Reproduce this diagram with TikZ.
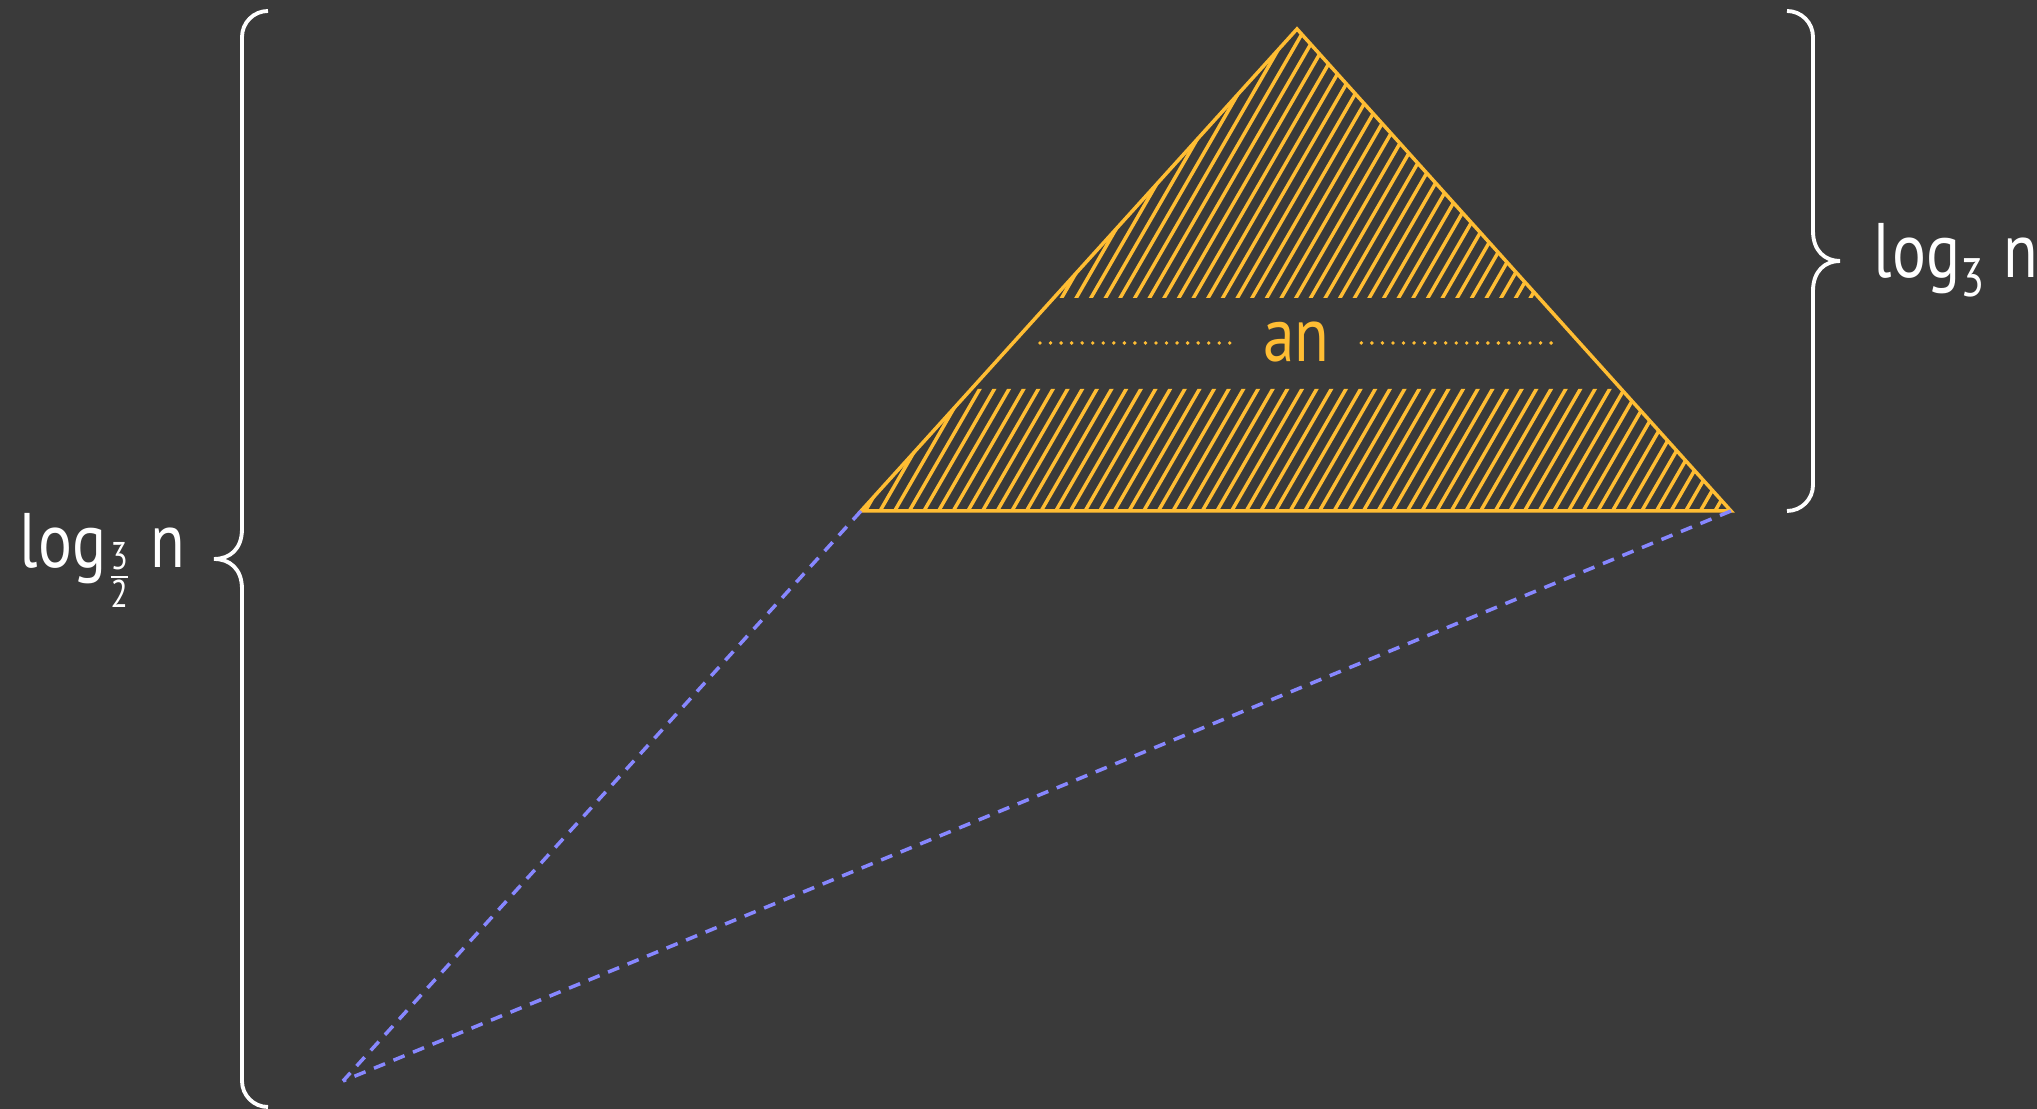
\documentclass[tikz,border=0pt]{standalone}
\usepackage{amsmath}
\usepackage{fontspec}
\setmainfont[FakeStretch=0.82]{PT Sans}
\usetikzlibrary{positioning,calc}
\definecolor{board}{RGB}{58,58,58}
\definecolor{chalkyellow}{RGB}{255,189,51}
\definecolor{chalkblue}{RGB}{135,135,255}
\tikzset{every picture/.style={line width=1pt}}
\tikzset{
  tri/.style={draw=chalkyellow, line join=miter},
  hatch/.style={chalkyellow, shorten <=-4pt},
  dotline/.style={chalkyellow, line width=1.1pt, dash pattern=on 0pt off 3pt, line cap=round},
  ray/.style={chalkblue, dash pattern=on 3.4pt off 2.6pt},
  bracket/.style={white, line width=1.1pt},
  lbl/.style={white, font=\fontsize{22}{26}\selectfont, inner sep=0pt}
}

\begin{document}
\begin{tikzpicture}
    % 黑板背景
    \fill[board] (0,0) rectangle (20.37,11.09);
    \useasboundingbox (0,0) rectangle (20.37,11.09);

    % 三角形顶点
    \coordinate (apex) at (12.97,10.80);
    \coordinate (bl) at (8.61,5.98);
    \coordinate (br) at (17.31,5.98);
    \coordinate (vp) at (3.43,0.28);

    % 阴影条带
    \begin{scope}
        \clip (apex) -- (bl) -- (br) -- cycle;
        \clip (0,5.5) rectangle (20.37,7.20) (0,8.11) rectangle (20.37,11.09);
        \foreach \k in {-19,...,58}
            \draw[hatch] (8.80+\k*0.1465,5.98) -- ++(60:5.8);
    \end{scope}

    % 三角形
    \draw[tri] (apex) -- (bl) -- (br) -- cycle;

    % 中间层
    \node[chalkyellow, font=\fontsize{22}{26}\selectfont, inner xsep=0.3cm, inner ysep=0pt, anchor=base] (an) at (12.965,7.47) {an};
    \coordinate (dl) at (10.40,7.66);
    \coordinate (dr) at (15.55,7.66);
    \draw[dotline] (dl) -- (dl -| an.west);
    \draw[dotline] (dr -| an.east) -- (dr);

    % 虚线
    \draw[ray] (bl) -- (vp);
    \draw[ray] (br) -- (vp);

    % 左括号
    \draw[bracket] (2.68,0.02) arc[start angle=270, end angle=180, radius=0.26]
        -- (2.42,5.20) .. controls (2.42,5.40) and (2.30,5.50) .. (2.14,5.50)
        .. controls (2.30,5.50) and (2.42,5.60) .. (2.42,5.80)
        -- (2.42,10.72) arc[start angle=180, end angle=90, radius=0.26];

    % 右括号
    \draw[bracket] (17.87,10.98) arc[start angle=90, end angle=0, radius=0.26]
        -- (18.13,8.78) .. controls (18.13,8.58) and (18.25,8.48) .. (18.40,8.48)
        .. controls (18.25,8.48) and (18.13,8.38) .. (18.13,8.18)
        -- (18.13,6.24) arc[start angle=0, end angle=-90, radius=0.26];

    % 标注
    \node[lbl, anchor=base west] (tall) at (0.18,5.41) {$\text{log}_{\frac{\text{3}}{\text{2}}}\ \text{n}$};
    \node[lbl, anchor=base west] (short) at (18.72,8.31) {$\text{log}_{\text{3}}\ \text{n}$};
\end{tikzpicture}
\end{document}
